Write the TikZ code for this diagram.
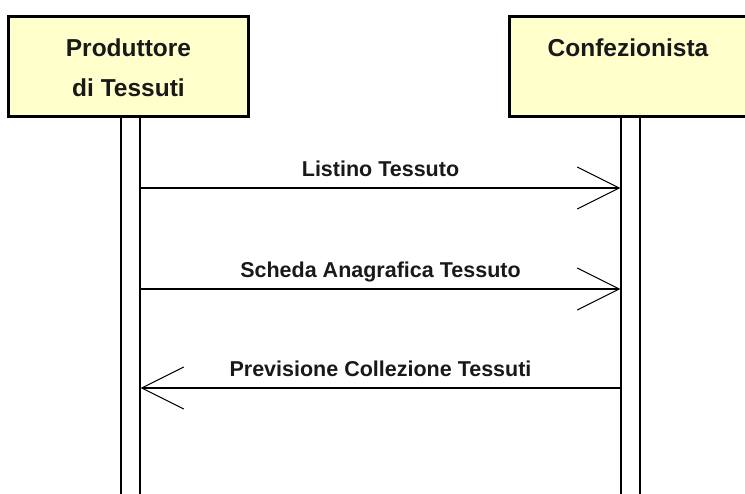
\documentclass[tikz,border=0pt]{standalone}
\usepackage{fontspec}
\setmainfont{Liberation Sans}
\usetikzlibrary{arrows.meta}
\definecolor{actorfill}{RGB}{255,255,204}
\tikzset{
  actorbox/.style={draw=black, line width=3pt, fill=actorfill, rectangle, inner sep=0pt,
    minimum width=240pt, minimum height=100pt},
  actortext/.style={inner sep=0pt, font=\fontsize{24.5}{30}\selectfont\bfseries, text=black!90},
  lifebar/.style={draw=black, line width=1.3pt, fill=white, rectangle, inner sep=0pt,
    minimum width=19pt, minimum height=400pt},
  msgarrow/.style={draw=black, line width=1.3pt, -{Straight Barb[length=42pt, width=42pt, line width=1pt]}},
  msgtext/.style={inner sep=0pt, font=\fontsize{21.5}{26}\selectfont\bfseries, text=black!90}
}
\begin{document}
\begin{tikzpicture}[x=1pt, y=-1pt]
  \useasboundingbox (0,0) rectangle (745,494);
  \clip (0,0) rectangle (745,494);
  % lifelines
  \node[lifebar, anchor=north] (lifeL) at (130.5,116) {};
  \node[lifebar, anchor=north] (lifeR) at (630.5,116) {};
  % actors
  \node[actorbox] (prod) at (128.5,66.5) {};
  \node[actorbox] (conf) at (629,66.5) {};
  \node[actortext, anchor=base] (prod1) at (128.5,57) {Produttore};
  \node[actortext, anchor=base] (prod2) at (128.5,97) {di Tessuti};
  \node[actortext, anchor=base] (conf1) at (628,57) {Confezionista};
  % message anchors
  \coordinate (m1) at (0,188);
  \coordinate (m2) at (0,289);
  \coordinate (m3) at (0,388);
  \draw[msgarrow] (lifeL.east |- m1) -- (lifeR.west |- m1)
    node[msgtext, midway, anchor=base, yshift=11pt] (t1) {Listino Tessuto};
  \draw[msgarrow] (lifeL.east |- m2) -- (lifeR.west |- m2)
    node[msgtext, midway, anchor=base, yshift=11pt] (t2) {Scheda Anagrafica Tessuto};
  \draw[msgarrow] (lifeR.west |- m3) -- (lifeL.east |- m3)
    node[msgtext, midway, anchor=base, yshift=11pt] (t3) {Previsione Collezione Tessuti};
\end{tikzpicture}
\end{document}
